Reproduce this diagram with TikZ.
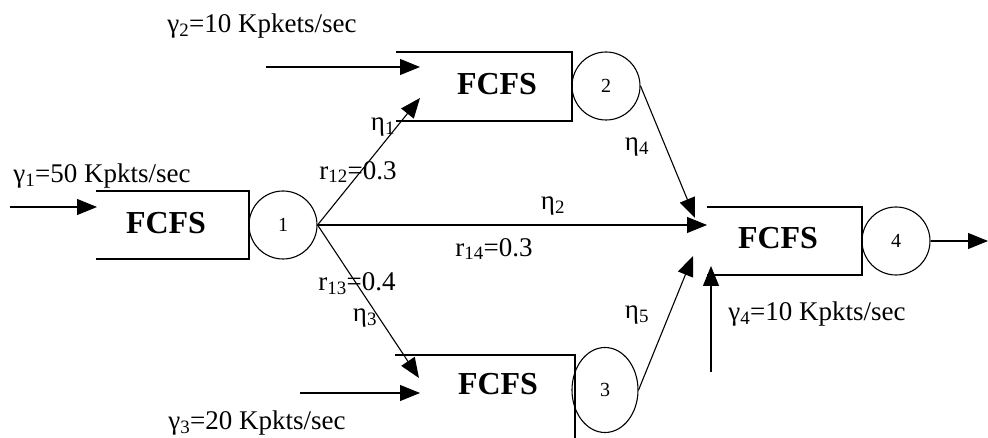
\documentclass[tikz,border=0pt]{standalone}
\usepackage{fontspec}
\setmainfont{Liberation Serif}
\usetikzlibrary{arrows.meta,shapes.geometric}

\begin{document}
\begin{tikzpicture}[x=1pt,y=-1pt,line width=1.1pt,
  flow/.style={-{Triangle[length=20pt,width=16pt]}},
  server/.style={draw,circle,minimum size=68pt,inner sep=0pt,font=\fontsize{20}{22}\selectfont},
  queue/.style={inner sep=0pt,font=\bfseries\fontsize{32}{36}\selectfont},
  lbl/.style={inner sep=0pt,font=\fontsize{27}{30}\selectfont}]
\useasboundingbox (0,0) rectangle (988,438);

% Queue 1
\draw (96,191) -- (249,191) -- (249,259) -- (96,259);
\node[queue] (fcfs1) at (166,223) {FCFS};
\node[server] (s1) at (283,225) {1};
\coordinate (in1) at (10,207);
\coordinate (q1) at (97,207);
\draw[flow] (in1) -- (q1);
\node[lbl] (g1) at (102,176) {γ\textsubscript{1}=50 Kpkts/sec};

% Queue 2
\draw (396,52) -- (572,52) -- (572,121) -- (396,121);
\node[queue] (fcfs2) at (497,84) {FCFS};
\node[server] (s2) at (606,86) {2};
\coordinate (in2) at (266,67);
\coordinate (q2) at (420,67);
\draw[flow] (in2) -- (q2);
\node[lbl] (g2) at (262,26) {γ\textsubscript{2}=10 Kpkets/sec};

% Queue 3
\draw (395,355) -- (575,355) -- (575,438);
\node[queue] (fcfs3) at (498,384) {FCFS};
\node[server,ellipse,minimum width=66pt,minimum height=85pt] (s3) at (605,390) {3};
\coordinate (in3) at (300,393);
\coordinate (q3) at (420,393);
\draw[flow] (in3) -- (q3);
\node[lbl] (g3) at (257,423) {γ\textsubscript{3}=20 Kpkts/sec};

% Queue 4
\draw (707,207) -- (862,207) -- (862,275) -- (707,275);
\node[queue] (fcfs4) at (778,238) {FCFS};
\node[server] (s4) at (896,241) {4};
\coordinate (out) at (988,241);
\draw[flow] (s4) -- (out);
\coordinate (in4) at (711,372);
\coordinate (q4) at (711,266);
\draw[flow] (in4) -- (q4);
\node[lbl] (g4) at (817,314) {γ\textsubscript{4}=10 Kpkts/sec};

% Routing
\coordinate (t1) at (420,98);
\coordinate (t2) at (707,225);
\coordinate (t3) at (419,378);
\coordinate (t4) at (695,218);
\coordinate (t5) at (693,256);
\draw[flow] (s1.east) -- (t1);
\draw[flow] (s1.east) -- (t2);
\draw[flow] (s1.east) -- (t3);
\draw[flow] (s2.east) -- (t4);
\draw[flow] (s3.east) -- (t5);

% Labels
\node[lbl] (e1) at (383,127) {η\textsubscript{1}};
\node[lbl] (r12) at (358,172) {r\textsubscript{12}=0.3};
\node[lbl] (e2) at (553,206) {η\textsubscript{2}};
\node[lbl] (r14) at (494,249) {r\textsubscript{14}=0.3};
\node[lbl] (r13) at (357,284) {r\textsubscript{13}=0.4};
\node[lbl] (e3) at (365,318) {η\textsubscript{3}};
\node[lbl] (e4) at (637,147) {η\textsubscript{4}};
\node[lbl] (e5) at (637,315) {η\textsubscript{5}};
\end{tikzpicture}
\end{document}
